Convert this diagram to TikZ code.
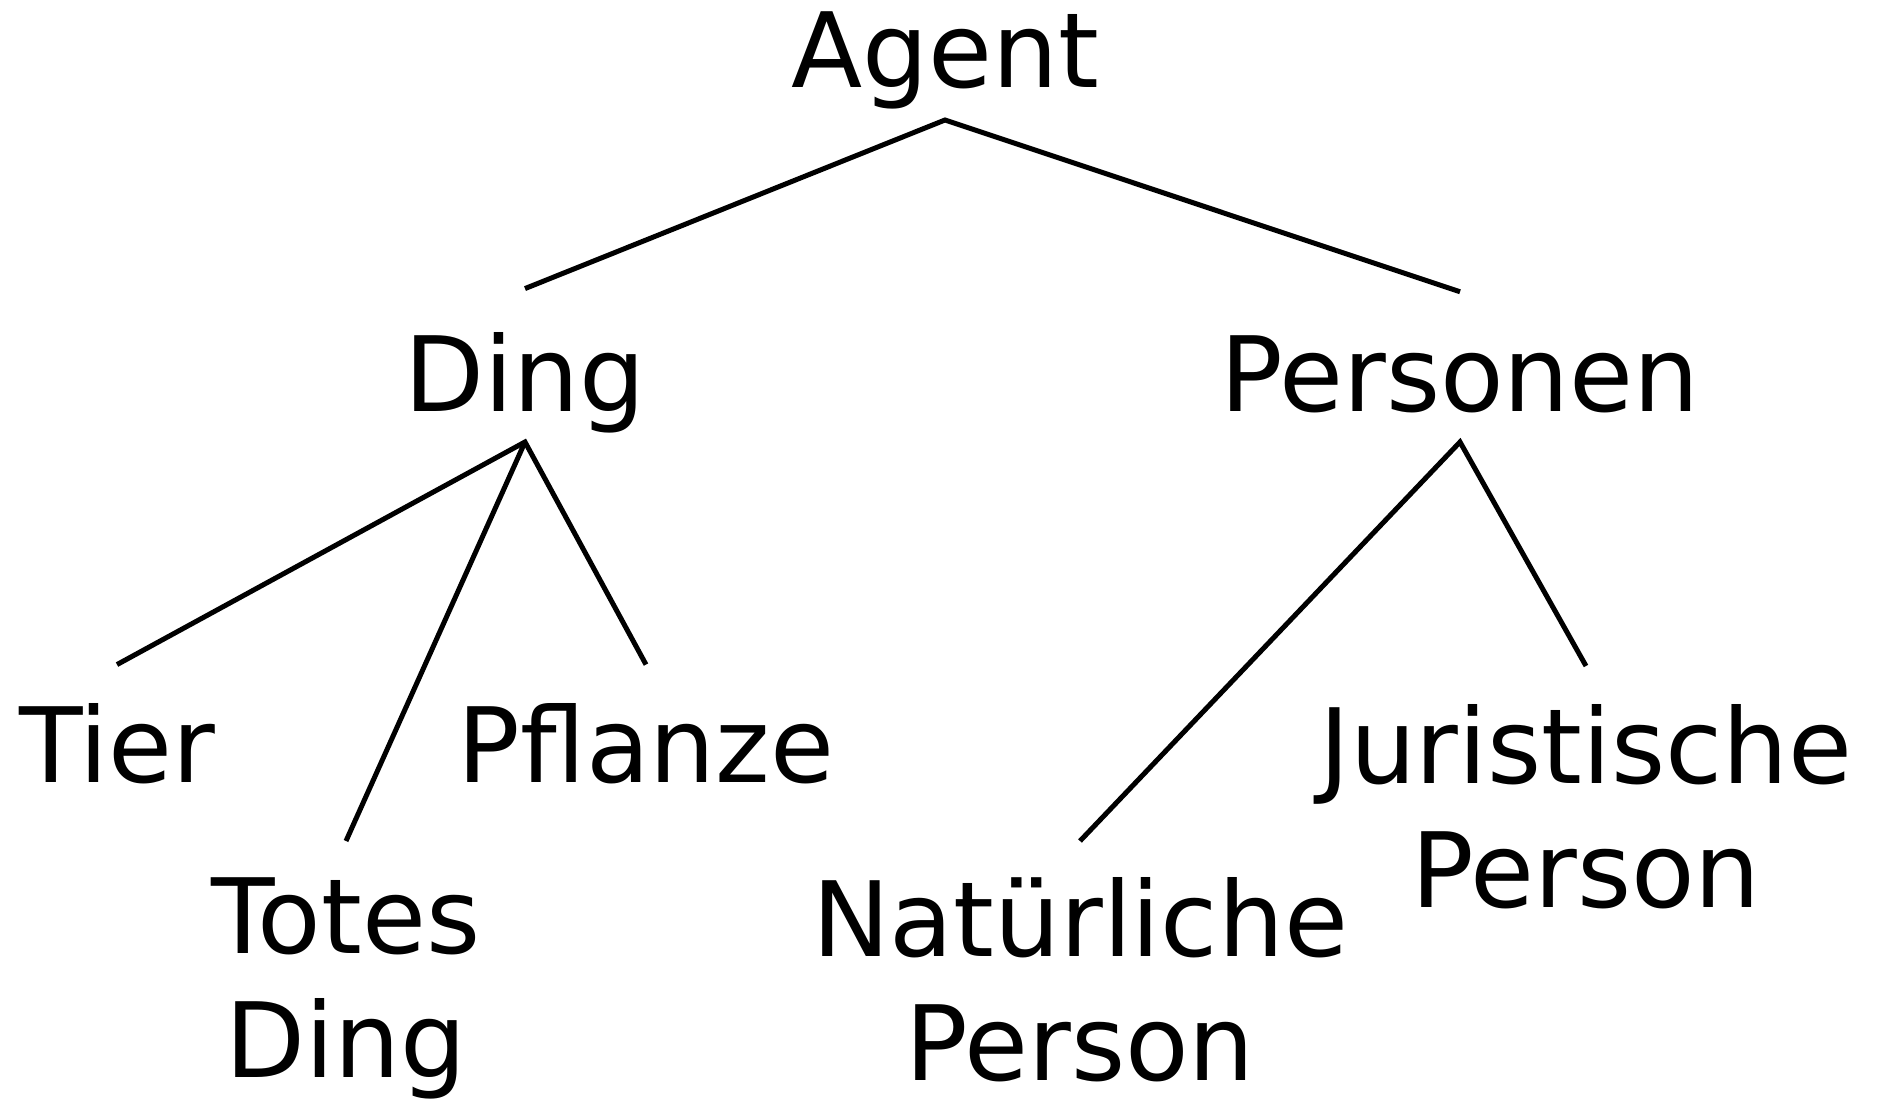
\documentclass[tikz,border=0pt]{standalone}
\usepackage{fontspec}
\setmainfont{DejaVu Sans}
\usetikzlibrary{positioning}

\begin{document}
\begin{tikzpicture}[x=0.5pt,y=-0.5pt,
  word/.style={inner sep=0pt,align=center,font=\fontsize{52}{62}\selectfont},
  branch/.style={line width=2.5pt}]

 \useasboundingbox (0,0) rectangle (1883,1106);

 \node[word,anchor=base] (agent) at (945,88) {Agent};
 \node[word,anchor=base] (ding) at (525,412) {Ding};
 \node[word,anchor=base] (personen) at (1460,412) {Personen};
 \node[word,anchor=base] (tier) at (117,782) {Tier};
 \node[word,anchor=base] (pflanze) at (646,782) {Pflanze};
 \node[word,anchor=north] (totes) at (346,877) {Totes\\Ding};
 \node[word,anchor=north] (natuerlich) at (1080,877) {Natürliche\\Person};
 \node[word,anchor=north] (juristisch) at (1586,704) {Juristische\\Person};

 \draw[branch] ([yshift=22pt]ding.north) -- ([yshift=-16pt]agent.base)
    -- ([yshift=22pt]personen.north);
 \draw[branch] ([yshift=19pt]tier.north) -- ([yshift=-15pt]ding.base)
    -- ([yshift=19pt]pflanze.north);
 \draw[branch] ([yshift=-15pt]ding.base) -- ([yshift=18pt]totes.north);
 \draw[branch] ([yshift=18pt]natuerlich.north) -- ([yshift=-15pt]personen.base)
    -- ([yshift=19pt]juristisch.north);

\end{tikzpicture}
\end{document}
